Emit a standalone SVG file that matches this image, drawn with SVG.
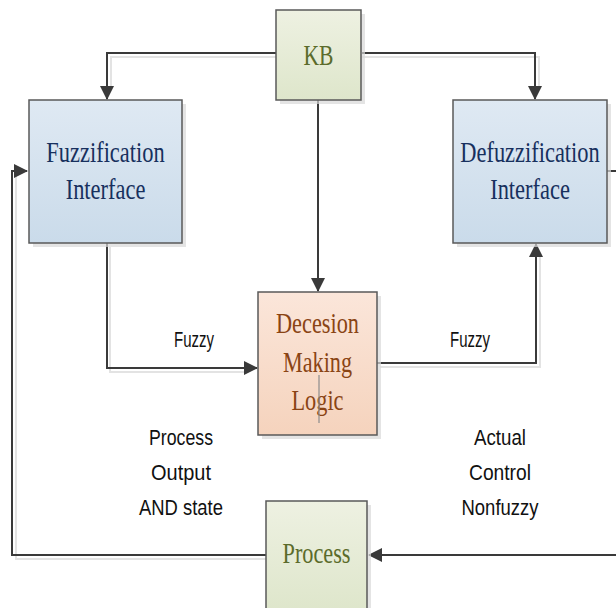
<svg xmlns="http://www.w3.org/2000/svg" width="616" height="608" viewBox="0 0 616 608">
  <defs>
    <linearGradient id="gGreen" x1="0" y1="0" x2="0" y2="1">
      <stop offset="0" stop-color="#eef1e2"/>
      <stop offset="1" stop-color="#dee6cb"/>
    </linearGradient>
    <linearGradient id="gBlue" x1="0" y1="0" x2="0" y2="1">
      <stop offset="0" stop-color="#dfe9f3"/>
      <stop offset="1" stop-color="#cadbea"/>
    </linearGradient>
    <linearGradient id="gPeach" x1="0" y1="0" x2="0" y2="1">
      <stop offset="0" stop-color="#fbe6da"/>
      <stop offset="1" stop-color="#f5d3bd"/>
    </linearGradient>
    <marker id="arrow" viewBox="0 0 14 14" refX="13" refY="7" markerWidth="14" markerHeight="14" markerUnits="userSpaceOnUse" orient="auto">
      <path d="M0,0 L14,7 L0,14 Z" fill="#3a3a3a"/>
    </marker>
  </defs>
  <style>
    .box { stroke: #595959; stroke-width: 1.5; }
    .shadow { fill: #d8d8d8; opacity: 0.7; }
    .node-text { font-family: "Liberation Serif", "Times New Roman", serif; font-size: 30px; text-anchor: middle; }
    .tall { font-size: 22px; }
    .kb-text { fill: #5b6b2b; }
    .blue-text { fill: #17305e; }
    .peach-text { fill: #8a4414; }
    .label { font-family: "Liberation Sans", Arial, sans-serif; font-size: 22px; fill: #111; text-anchor: middle; }
    .wire { fill: none; stroke: #3a3a3a; stroke-width: 2; }
    .wire-shadow { fill: none; stroke: #e3e3e3; stroke-width: 2; }
  </style>

  <rect width="616" height="608" fill="#ffffff"/>

  <!-- connectors -->
  <g id="connectors">
    <!-- soft shadows under the wires -->
    <g class="wire-shadow">
      <path d="M276,57 H111 V90"/>
      <path d="M362,57 H539 V90"/>
      <path d="M110,247 V372 H248"/>
      <path d="M380,367 H540 V256"/>
      <path d="M16,175 V559 H266"/>
    </g>
    <g class="wire">
      <!-- KB to fuzzification -->
      <path d="M276,53 H107 V99" marker-end="url(#arrow)"/>
      <!-- KB to defuzzification -->
      <path d="M362,53 H535 V99" marker-end="url(#arrow)"/>
      <!-- KB to decision logic -->
      <path d="M318,100 V291" marker-end="url(#arrow)"/>
      <!-- fuzzification to decision logic -->
      <path d="M107,243 V368 H257" marker-end="url(#arrow)"/>
      <!-- decision logic to defuzzification -->
      <path d="M377,363 H536 V244" marker-end="url(#arrow)"/>
      <!-- defuzzification output leaving to the right -->
      <path d="M607,171 H616"/>
      <!-- control signal into process -->
      <path d="M616,555 H369" marker-end="url(#arrow)"/>
      <!-- process feedback to fuzzification -->
      <path d="M266,555 H12 V171 H27" marker-end="url(#arrow)"/>
    </g>
  </g>

  <!-- knowledge base -->
  <g id="kb">
    <rect class="shadow" x="280" y="14" width="85" height="90"/>
    <rect class="box" x="276" y="10" width="85" height="90" fill="url(#gGreen)"/>
    <text class="node-text kb-text" x="318.5" y="65" font-size="32" textLength="30" lengthAdjust="spacingAndGlyphs">KB</text>
  </g>

  <!-- fuzzification interface -->
  <g id="fuzzification">
    <rect class="shadow" x="33" y="104" width="153" height="143"/>
    <rect class="box" x="29" y="100" width="153" height="143" fill="url(#gBlue)"/>
    <text class="node-text tall blue-text" transform="translate(105.5,162) scale(1.02,1.36)">Fuzzification</text>
    <text class="node-text tall blue-text" transform="translate(105.5,199) scale(1.02,1.36)">Interface</text>
  </g>

  <!-- defuzzification interface -->
  <g id="defuzzification">
    <rect class="shadow" x="457" y="104" width="154" height="143"/>
    <rect class="box" x="453" y="100" width="154" height="143" fill="url(#gBlue)"/>
    <text class="node-text tall blue-text" transform="translate(530,162) scale(1.02,1.36)">Defuzzification</text>
    <text class="node-text tall blue-text" transform="translate(530,199) scale(1.02,1.36)">Interface</text>
  </g>

  <!-- decision making logic -->
  <g id="decision">
    <rect class="shadow" x="262" y="296" width="119" height="143"/>
    <rect class="box" x="258" y="292" width="119" height="143" fill="url(#gPeach)"/>
    <text class="node-text peach-text" x="317.5" y="333" textLength="83" lengthAdjust="spacingAndGlyphs">Decesion</text>
    <text class="node-text peach-text" x="317.5" y="372" textLength="69" lengthAdjust="spacingAndGlyphs">Making</text>
    <text class="node-text peach-text" x="317.5" y="410" textLength="52" lengthAdjust="spacingAndGlyphs">Logic</text>
    <line x1="319" y1="375" x2="319" y2="423" stroke="#8c8c8c" stroke-width="1.2"/>
  </g>

  <!-- process -->
  <g id="process">
    <rect class="shadow" x="270" y="505" width="101" height="110"/>
    <rect class="box" x="266" y="501" width="101" height="110" fill="url(#gGreen)"/>
    <text class="node-text kb-text" x="316.5" y="563" font-size="28" textLength="68" lengthAdjust="spacingAndGlyphs">Process</text>
  </g>

  <!-- wire labels -->
  <g id="labels">
    <text class="label" x="194" y="347" textLength="40" lengthAdjust="spacingAndGlyphs">Fuzzy</text>
    <text class="label" x="470" y="347" textLength="40" lengthAdjust="spacingAndGlyphs">Fuzzy</text>
    <text class="label" x="181" y="445" textLength="64" lengthAdjust="spacingAndGlyphs">Process</text>
    <text class="label" x="181" y="480" textLength="60" lengthAdjust="spacingAndGlyphs">Output</text>
    <text class="label" x="181" y="515" textLength="84" lengthAdjust="spacingAndGlyphs">AND state</text>
    <text class="label" x="500" y="445" textLength="52" lengthAdjust="spacingAndGlyphs">Actual</text>
    <text class="label" x="500" y="480" textLength="62" lengthAdjust="spacingAndGlyphs">Control</text>
    <text class="label" x="500" y="515" textLength="77" lengthAdjust="spacingAndGlyphs">Nonfuzzy</text>
  </g>
</svg>
